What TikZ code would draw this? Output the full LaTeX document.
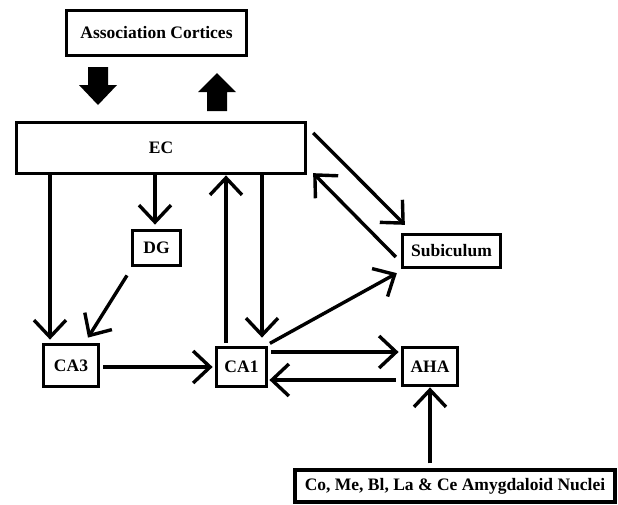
\documentclass[tikz,border=0pt]{standalone}
\usepackage{fontspec}
\setmainfont{Liberation Serif}
\usetikzlibrary{arrows.meta,calc}
\begin{document}
\begin{tikzpicture}[x=1pt,y=-1pt,
  box/.style={draw, line width=3.8pt, inner sep=0pt, font=\fontsize{17.5}{20}\selectfont\bfseries},
  conn/.style={line width=3.4pt, -{Straight Barb[length=17pt,width=32pt]}},
  block/.style={fill=black}]
\useasboundingbox (0,0) rectangle (618,504);
% boxes
\node[box, minimum width=180pt, minimum height=45pt] (assoc) at (156.5,33) {Association Cortices};
\node[box, minimum width=289pt, minimum height=51pt] (EC) at (161,148) {EC};
\node[box, minimum width=48pt, minimum height=35pt] (DG) at (156.5,248) {DG};
\node[box, minimum width=55pt, minimum height=42pt] (CA3) at (71,365.5) {CA3};
\node[box, minimum width=50pt, minimum height=39pt] (CA1) at (241.5,367) {CA1};
\node[box, minimum width=55pt, minimum height=38pt] (AHA) at (430,366.5) {AHA};
\node[box, minimum width=98pt, minimum height=33pt] (Sub) at (451.5,251) {Subiculum};
\node[box, minimum width=320.5pt, minimum height=31.5pt] (Amy) at (455,486) {Co, Me, Bl, La \& Ce Amygdaloid Nuclei};
% block arrows
\fill[block] (88,67) -- (108,67) -- (108,85) -- (117,85) -- (98,105) -- (79,85) -- (88,85) -- cycle;
\fill[block] (207,111) -- (227,111) -- (227,92) -- (236,92) -- (217,73) -- (198,92) -- (207,92) -- cycle;
% connectors
\draw[conn, shorten >=3pt] ([xshift=-111pt]EC.south) -- ([xshift=-21pt]CA3.north);
\draw[conn, shorten >=4pt] ([xshift=-6pt]EC.south) -- ([xshift=-1.5pt]DG.north);
\draw[conn] ([shift={(-29.5,8)}]DG.south) -- ([shift={(17,-5)}]CA3.north);
\draw[conn, shorten >=8pt] ([xshift=101pt]EC.south) -- ([xshift=20.5pt]CA1.north);
\draw[conn, shorten <=3pt] ([xshift=-15.5pt]CA1.north) -- ([xshift=65pt]EC.south);
\draw[conn, shorten <=3pt, shorten >=2pt] (CA3.east |- CA1.center) -- (CA1.west);
\draw[conn, shorten <=3pt, shorten >=2pt] ([yshift=15pt]CA1.east) -- ([yshift=15pt]CA1.east -| AHA.west);
\draw[conn, shorten <=5pt, shorten >=1pt] ([yshift=-13pt]CA1.east -| AHA.west) -- ([yshift=-13pt]CA1.east);
\draw[conn, shorten <=5pt] (Amy.north -| AHA.south) -- (AHA.south);
\draw[conn] ([shift={(5.75,12.25)}]EC.north east) -- ([shift={(4.25,-7.75)}]Sub.north west);
\draw[conn] ([shift={(-4.75,6)}]Sub.west) -- ([shift={(5.75,-2.25)}]EC.south east);
\draw[conn] ([shift={(1.5,-2.25)}]CA1.north east) -- ([shift={(-3.75,3.75)}]Sub.south west);
\end{tikzpicture}
\end{document}
